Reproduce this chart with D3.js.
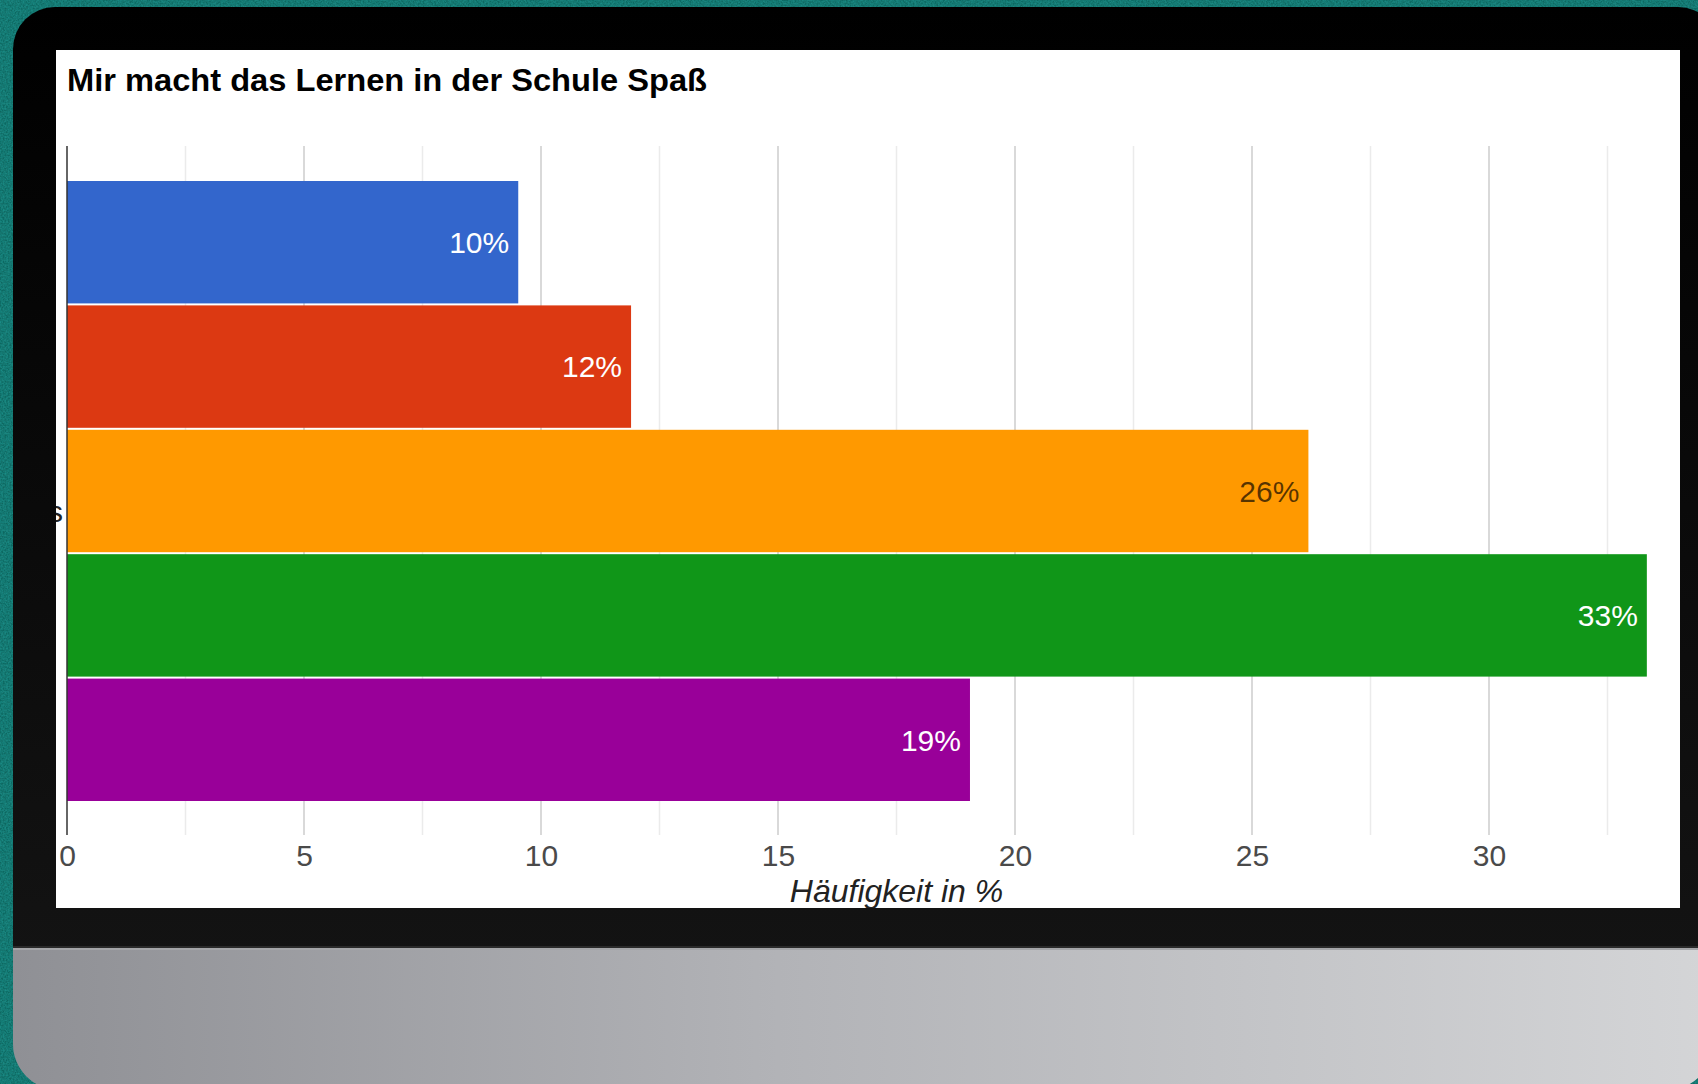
<!DOCTYPE html>
<html>
<head>
<meta charset="utf-8">
<script src="https://cdn.jsdelivr.net/npm/d3@7"></script>
<style>
  html, body { margin: 0; padding: 0; background: #0e6a63; overflow: hidden; }
  svg { display: block; }
</style>
</head>
<body>
<svg id="chart" width="1698" height="1084"></svg>
<script>
// ---- data ----
const title = "Mir macht das Lernen in der Schule Spaß";
const axisTitle = "Häufigkeit in %";
const categories = ["trifft gar nicht zu", "trifft eher nicht zu", "teils/teils", "trifft eher zu", "trifft voll zu"];
const values = [9.52, 11.9, 26.19, 33.33, 19.05];
const valueLabels = ["10%", "12%", "26%", "33%", "19%"];
const colors = ["#3366cc", "#dc3912", "#ff9900", "#109618", "#990099"];
const labelColors = ["#ffffff", "#ffffff", "rgba(0,0,0,0.66)", "#ffffff", "#ffffff"];
const majorTicks = [0, 5, 10, 15, 20, 25, 30, 35];
const minorTicks = [2.5, 7.5, 12.5, 17.5, 22.5, 27.5, 32.5];

const svg = d3.select("#chart");
const W = 1698, H = 1084;
const defs = svg.append("defs");

// background texture
const f = defs.append("filter").attr("id", "tex").attr("x", 0).attr("y", 0).attr("width", "100%").attr("height", "100%");
f.append("feTurbulence").attr("type", "fractalNoise").attr("baseFrequency", 0.6).attr("numOctaves", 2).attr("seed", 3).attr("result", "n");
f.append("feColorMatrix").attr("in", "n").attr("type", "matrix")
  .attr("values", "0 0 0 0 0.02  0 0 0 0 0.42  0 0 0 0 0.39  0 0 0 0.9 -0.2").attr("result", "c");
f.append("feComposite").attr("in", "c").attr("in2", "SourceGraphic").attr("operator", "over");

svg.append("rect").attr("width", W).attr("height", H).attr("fill", "#0d6861");
svg.append("rect").attr("width", W).attr("height", H).attr("fill", "#0d6861").attr("filter", "url(#tex)").attr("opacity", 0.8);

// gradients
const bez = defs.append("linearGradient").attr("id", "bez").attr("x1", 0).attr("y1", 0).attr("x2", 0).attr("y2", 1);
bez.append("stop").attr("offset", "0%").attr("stop-color", "#000000");
bez.append("stop").attr("offset", "100%").attr("stop-color", "#141414");
const chin = defs.append("linearGradient").attr("id", "chin").attr("x1", 0).attr("y1", 0).attr("x2", 1).attr("y2", 0);
chin.append("stop").attr("offset", "0%").attr("stop-color", "#8f9095");
chin.append("stop").attr("offset", "45%").attr("stop-color", "#b2b3b7");
chin.append("stop").attr("offset", "100%").attr("stop-color", "#d4d5d7");

// monitor body
svg.append("rect").attr("x", 13).attr("y", 7).attr("width", 1707).attr("height", 1000)
  .attr("rx", 42).attr("fill", "url(#bez)");
// chin
svg.append("rect").attr("x", 13).attr("y", 948).attr("width", 1700).attr("height", 142)
  .attr("rx", 46).attr("fill", "url(#chin)");
svg.append("rect").attr("x", 13).attr("y", 948).attr("width", 1700).attr("height", 60).attr("fill", "url(#chin)");
svg.append("rect").attr("x", 13).attr("y", 946).attr("width", 1700).attr("height", 2).attr("fill", "#2a2a2a");
svg.append("rect").attr("x", 13).attr("y", 948).attr("width", 1700).attr("height", 2).attr("fill", "#a4a5a8");

// white screen panel
const panel = { x: 56, y: 50, w: 1624, h: 858 };
defs.append("clipPath").attr("id", "pclip").append("rect")
  .attr("x", panel.x).attr("y", panel.y).attr("width", panel.w).attr("height", panel.h);
svg.append("rect").attr("x", panel.x).attr("y", panel.y).attr("width", panel.w).attr("height", panel.h).attr("fill", "#ffffff");

const g = svg.append("g").attr("clip-path", "url(#pclip)");
const font = "'Liberation Sans', Arial, sans-serif";

// scales
const plotTop = 146, plotBottom = 835;
const x = d3.scaleLinear().domain([0, 35]).range([67, 1726]);
const y = d3.scaleBand().domain(categories).range([181, 801]).paddingInner(0.016);

// gridlines
g.append("g").selectAll("line").data(minorTicks).join("line")
  .attr("x1", d => x(d)).attr("x2", d => x(d))
  .attr("y1", plotTop).attr("y2", plotBottom)
  .attr("stroke", "#ebebeb").attr("stroke-width", 1.5);
g.append("g").selectAll("line").data(majorTicks.filter(d => d > 0)).join("line")
  .attr("x1", d => x(d)).attr("x2", d => x(d))
  .attr("y1", plotTop).attr("y2", plotBottom)
  .attr("stroke", "#cccccc").attr("stroke-width", 1.5);

// bars
g.append("g").selectAll("rect").data(values).join("rect")
  .attr("x", x(0))
  .attr("y", (d, i) => y(categories[i]))
  .attr("width", d => x(d) - x(0))
  .attr("height", y.bandwidth())
  .attr("fill", (d, i) => colors[i]);

// baseline
g.append("line").attr("x1", x(0)).attr("x2", x(0)).attr("y1", plotTop).attr("y2", plotBottom)
  .attr("stroke", "#333333").attr("stroke-width", 1.5);

// bar labels
g.append("g").selectAll("text").data(values).join("text")
  .attr("x", d => x(d) - 9)
  .attr("y", (d, i) => y(categories[i]) + y.bandwidth() / 2)
  .attr("dy", "0.36em")
  .attr("text-anchor", "end")
  .attr("font-family", font).attr("font-size", 30)
  .attr("fill", (d, i) => labelColors[i])
  .text((d, i) => valueLabels[i]);

// x axis tick labels
const ax = g.append("g").attr("transform", `translate(0,${plotBottom})`)
  .call(d3.axisBottom(x).tickValues(majorTicks.slice(0, 7)).tickSize(0).tickPadding(10).tickFormat(d3.format("d")));
ax.select(".domain").remove();
ax.selectAll("text").attr("font-family", font).attr("font-size", 30).attr("fill", "#4a4a4a");

// axis title
g.append("text")
  .attr("x", (x.range()[0] + x.range()[1]) / 2).attr("y", 902)
  .attr("text-anchor", "middle")
  .attr("font-family", font).attr("font-size", 32).attr("font-style", "italic")
  .attr("fill", "#222222").text(axisTitle);

// clipped vertical-axis remnant
g.append("text").attr("x", 63).attr("y", 522).attr("text-anchor", "end")
  .attr("font-family", font).attr("font-size", 30).attr("fill", "#222222").text("s");

// chart title
g.append("text").attr("x", 67).attr("y", 91)
  .attr("font-family", font).attr("font-size", 31).attr("font-weight", "bold")
  .attr("textLength", 640).attr("lengthAdjust", "spacingAndGlyphs")
  .attr("fill", "#000000").text(title);
</script>
</body>
</html>
